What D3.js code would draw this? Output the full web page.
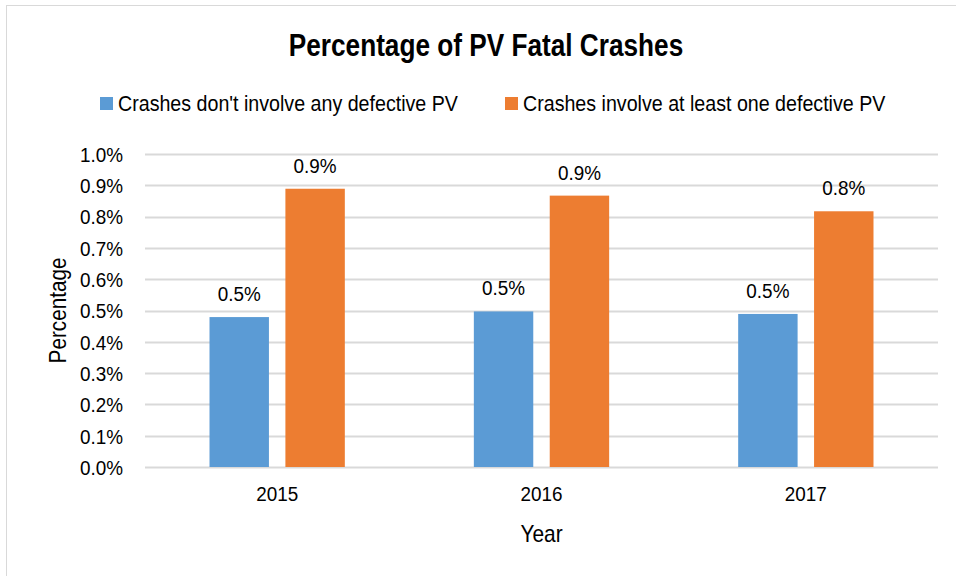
<!DOCTYPE html>
<html>
<head>
<meta charset="utf-8">
<script src="https://cdn.jsdelivr.net/npm/d3@7"></script>
<style>
  html, body { margin: 0; padding: 0; background: #fff; }
  svg { display: block; }
  text { font-family: "Liberation Sans", Arial, sans-serif; fill: #000; }
</style>
</head>
<body>
<svg id="chart" width="956" height="576"></svg>
<script>
const years = ["2015", "2016", "2017"];
const seriesNames = ["Crashes don't involve any defective PV", "Crashes involve at least one defective PV"];
const noDefective = [0.479, 0.497, 0.489];
const withDefective = [0.889, 0.867, 0.817];
const yTicks = [0, 0.1, 0.2, 0.3, 0.4, 0.5, 0.6, 0.7, 0.8, 0.9, 1.0];
const colors = ["#5b9bd5", "#ed7d31"];

const svg = d3.select("#chart");
const W = 956, H = 576;
const margin = { left: 145, right: 18, top: 154, bottom: 109 };
const plotW = W - margin.left - margin.right;
const plotH = H - margin.top - margin.bottom;

// narrow-looking text: regular font compressed horizontally
function ntext(parent, x, y, str, size, sx, anchor, weight, rot) {
  const t = parent.append("text")
    .attr("transform", `translate(${x},${y})` + (rot ? ` rotate(${rot})` : "") + ` scale(${sx},1)`)
    .attr("text-anchor", anchor || "start")
    .attr("font-size", size)
    .text(str);
  if (weight) t.attr("font-weight", weight);
  return t;
}

// chart border (partially outside picture)
svg.append("rect").attr("x", 6.5).attr("y", 5.5).attr("width", W + 20).attr("height", H + 20)
  .attr("fill", "none").attr("stroke", "#d9d9d9").attr("stroke-width", 1);

const g = svg.append("g").attr("transform", `translate(${margin.left},${margin.top})`);

const x0 = d3.scaleBand().domain(years).range([0, plotW]).paddingInner(0).paddingOuter(0);
const x1 = d3.scaleBand().domain([0, 1]).range([0, x0.bandwidth()]).paddingInner(0.217).paddingOuter(0.85);
const y = d3.scaleLinear().domain([0, 1.0]).range([plotH, 0]);

// gridlines
g.append("g").selectAll("line").data(yTicks).join("line")
  .attr("x1", 0).attr("x2", plotW)
  .attr("y1", d => Math.round(y(d)) + 0.5).attr("y2", d => Math.round(y(d)) + 0.5)
  .attr("stroke", "#d9d9d9").attr("stroke-width", 2);

const SX = 0.9;
// y axis labels
const yPad = 22;
const yAxis = d3.axisLeft(y).tickValues(yTicks).tickFormat(d => d.toFixed(1) + "%").tickSize(0).tickPadding(yPad);
const yg = g.append("g").call(yAxis);
yg.select(".domain").remove();
yg.selectAll("text").attr("font-size", 21).attr("fill", "#000")
  .attr("x", -yPad / SX).attr("dy", "0.35em")
  .attr("transform", `scale(${SX},1)`)
  .style("font-family", '"Liberation Sans", Arial, sans-serif');

// x axis labels
const xAxis = d3.axisBottom(x0).tickSize(0).tickPadding(19);
const xg = g.append("g").attr("transform", `translate(0,${plotH})`).call(xAxis);
xg.select(".domain").remove();
xg.selectAll("text").attr("font-size", 21).attr("fill", "#000")
  .attr("transform", `scale(${SX},1)`)
  .style("font-family", '"Liberation Sans", Arial, sans-serif');

// bars
const data = years.map((yr, i) => ({ year: yr, values: [noDefective[i], withDefective[i]] }));
const groups = g.selectAll("g.grp").data(data).join("g").attr("class", "grp")
  .attr("transform", d => `translate(${x0(d.year)},0)`);
groups.selectAll("rect").data(d => d.values.map((v, k) => ({ v, k }))).join("rect")
  .attr("x", d => x1(d.k)).attr("width", x1.bandwidth())
  .attr("y", d => y(d.v)).attr("height", d => plotH - y(d.v))
  .attr("fill", d => colors[d.k]);
groups.each(function (d) {
  const grp = d3.select(this);
  d.values.forEach((v, k) => {
    ntext(grp, x1(k) + x1.bandwidth() / 2, y(v) - 16, v.toFixed(1) + "%", 21, SX, "middle");
  });
});

// title
ntext(svg, 486, 56, "Percentage of PV Fatal Crashes", 31, 0.845, "middle", "bold");

// legend
const legendX = [100, 505];
const lg = svg.append("g");
seriesNames.forEach((name, k) => {
  lg.append("rect").attr("x", legendX[k]).attr("y", 97).attr("width", 13).attr("height", 13).attr("fill", colors[k]);
  ntext(lg, legendX[k] + 18, 111, name, 22, 0.893, "start");
});

// axis titles
ntext(svg, margin.left + plotW / 2, 542, "Year", 24, 0.87, "middle");
ntext(svg, 66, margin.top + plotH / 2, "Percentage", 23, 0.9, "middle", null, -90);
</script>
</body>
</html>
